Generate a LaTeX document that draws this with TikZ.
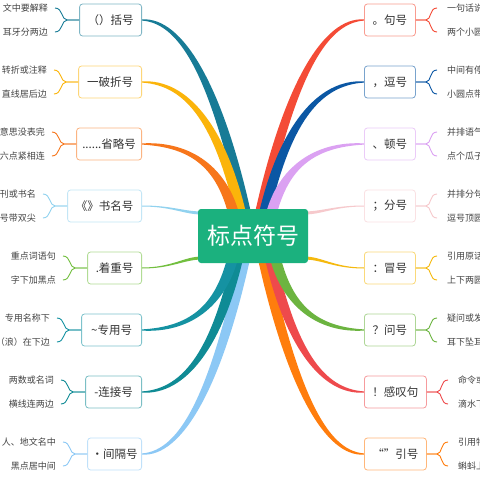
\documentclass[tikz,border=0pt]{standalone}
\usepackage{fontspec}
\setmainfont{Noto Sans CJK SC}
\definecolor{tealA}{HTML}{177B96}
\definecolor{yellowA}{HTML}{FBB40A}
\definecolor{orangeA}{HTML}{F7761B}
\definecolor{lblueA}{HTML}{91D2EF}
\definecolor{greenA}{HTML}{72BF3F}
\definecolor{tealB}{HTML}{1592A2}
\definecolor{tealC}{HTML}{0F8B95}
\definecolor{lblueB}{HTML}{8CC8F5}
\definecolor{redA}{HTML}{F44B36}
\definecolor{blueA}{HTML}{0B57A4}
\definecolor{purpleA}{HTML}{DBA1F2}
\definecolor{pinkA}{HTML}{F6C9CC}
\definecolor{yellowB}{HTML}{F5B90E}
\definecolor{greenB}{HTML}{6CB440}
\definecolor{redB}{HTML}{EE4A4C}
\definecolor{orangeB}{HTML}{FF7D0D}
\definecolor{mainG}{HTML}{1BB17E}
\definecolor{txt}{HTML}{333333}
\definecolor{leaftxt}{HTML}{444444}
% tapered branch: color, bx, by, ax, ay, w
\newcommand\branch[6]{%
 \pgfmathsetmacro\Bdx{#4-(#2)}%
 \pgfmathsetmacro\Bdy{#5-(#3)}%
 \pgfmathsetmacro\Bsx{ifthenelse(\Bdx>0,1,-1)}%
 \pgfmathsetmacro\Bsy{ifthenelse(\Bdy>0,1,-1)}%
 \pgfmathsetmacro\Bs{\Bsx*\Bsy}%
 \pgfmathsetmacro\BX{#4-\Bsx*(0.2*abs(\Bdy)+4)}%
 \pgfmathsetmacro\Ca{#2+2/3*(\BX-(#2))}%
 \pgfmathsetmacro\Cbx{#4+2/3*(\BX-(#4))}%
 \pgfmathsetmacro\Cby{#5+2/3*(#3-(#5))}%
 \pgfmathsetmacro\Hw{\Bs*#6/2}%
 \pgfmathsetmacro\Hs{0.3*#6}%
 \pgfmathsetmacro\CbP{\Cbx+\Hw}%
 \pgfmathsetmacro\CbM{\Cbx-\Hw}%
 \pgfmathsetmacro\EP{#4+\Hw}%
 \pgfmathsetmacro\EM{#4-\Hw}%
 \fill[#1] (#2,#3-0.6) .. controls (\Ca,#3-\Hs) and (\CbP,\Cby) .. (\EP,#5)
   -- (\EM,#5) .. controls (\CbM,\Cby) and (\Ca,#3+\Hs) .. (#2,#3+0.6) -- cycle;
}
% thin horizontal branch: color, bx, by, ax, ay, w
\newcommand\hbranch[6]{%
 \pgfmathsetmacro\Hdx{#4-(#2)}%
 \pgfmathsetmacro\Ha{#2+0.5*\Hdx}%
 \pgfmathsetmacro\Hb{#4-0.3*\Hdx}%
 \fill[#1] (#2,#3-0.5) .. controls (\Ha,#3-0.5) and (\Hb,#5-#6/2) .. (#4,#5-#6/2)
   -- (#4,#5+#6/2) .. controls (\Hb,#5+#6/2) and (\Ha,#3+0.5) .. (#2,#3+0.5) -- cycle;
}
% left item: name, c, width, label, leafA, leafB, color
\newcommand\leftitem[7]{%
 \node[box=#7!55!white, minimum width=#3pt, anchor=east] (#1) at (142,#2) {#4};
 \node[leaf, anchor=east] (#1a) at (142-#3-32,#2-12) {#5};
 \node[leaf, anchor=east] (#1b) at (142-#3-32,#2+12) {#6};
 \draw[brk=#7] (#1.west) -- ++(-12,0) .. controls +(-6,0) and +(8,0) .. ([xshift=7pt]#1a.east);
 \draw[brk=#7] (#1.west) -- ++(-12,0) .. controls +(-6,0) and +(8,0) .. ([xshift=7pt]#1b.east);
}
% right item: name, c, width, label, leafA, leafB, color
\newcommand\rightitem[7]{%
 \node[box=#7!55!white, minimum width=#3pt, anchor=west] (#1) at (364,#2) {#4};
 \node[leaf, anchor=west] (#1a) at (364+#3+32,#2-12) {#5};
 \node[leaf, anchor=west] (#1b) at (364+#3+32,#2+12) {#6};
 \draw[brk=#7] (#1.east) -- ++(10,0) .. controls +(6,0) and +(-8,0) .. ([xshift=-10pt]#1a.west);
 \draw[brk=#7] (#1.east) -- ++(10,0) .. controls +(6,0) and +(-8,0) .. ([xshift=-10pt]#1b.west);
}
\begin{document}
\begin{tikzpicture}[x=1pt,y=-1pt,
  box/.style={draw=#1, line width=0.8pt, rounded corners=3pt, fill=white,
    minimum height=32pt, inner sep=0pt, text=txt, font=\fontsize{11.5}{13}\selectfont},
  leaf/.style={inner sep=0pt, text=leaftxt, font=\fontsize{9}{11}\selectfont},
  brk/.style={draw=#1, line width=0.9pt},
  mainbox/.style={fill=mainG, rounded corners=3pt, minimum width=110pt, minimum height=54pt,
    inner sep=0pt, text=white, font=\fontsize{23}{26}\selectfont}]
\useasboundingbox (0,0) rectangle (480,480);
\clip (0,0) rectangle (480,480);
\fill[white] (0,0) rectangle (480,480);
% branches top-left
\branch{tealA}{142}{20}{246}{215}{11}
\branch{yellowA}{142}{82}{241}{215}{11}
\branch{orangeA}{142}{144}{234}{215}{11}
% top-right
\branch{redA}{364}{20}{260}{215}{11}
\branch{blueA}{364}{82}{264}{215}{11}
\branch{purpleA}{364}{144}{271}{215}{11}
% bottom-left
\branch{lblueB}{142}{454}{245}{257}{11}
\branch{tealC}{142}{392}{238}{257}{11}
\branch{tealB}{142}{330}{233}{257}{11}
% bottom-right
\branch{orangeB}{364}{454}{263}{257}{11}
\branch{redB}{364}{392}{270}{257}{11}
\branch{greenB}{364}{330}{275}{257}{11}
% thin side branches
\hbranch{lblueA}{142}{206}{202}{213}{3}
\hbranch{greenA}{142}{268}{202}{258}{3}
\hbranch{pinkA}{364}{206}{304}{213}{3}
\hbranch{yellowB}{364}{268}{304}{258}{3}
% centre
\node[mainbox] (c) at (253,236) {标点符号};
% left items
\leftitem{b1}{20}{62}{（）括号}{文中要解释}{耳牙分两边}{tealA}
\leftitem{b2}{82}{63}{一破折号}{转折或注释}{直线居后边}{yellowA}
\leftitem{b3}{144}{65}{......省略号}{意思没表完}{六点紧相连}{orangeA}
\leftitem{b4}{206}{74}{《》书名号}{刊或书名}{号带双尖}{lblueA}
\leftitem{b5}{268}{54}{.着重号}{重点词语句}{字下加黑点}{greenA}
\leftitem{b6}{330}{60}{{\textasciitilde}专用号}{专用名称下}{（浪）在下边}{tealB}
\leftitem{b7}{392}{56}{-连接号}{两数或名词}{横线连两边}{tealC}
\leftitem{b8}{454}{54}{·间隔号}{人、地文名中}{黑点居中间}{lblueB}
% right items
\rightitem{r1}{20}{51}{。句号}{一句话说}{两个小圆}{redA}
\rightitem{r2}{82}{51}{，逗号}{中间有停}{小圆点带}{blueA}
\rightitem{r3}{144}{51}{、顿号}{并排语气}{点个瓜子}{purpleA}
\rightitem{r4}{206}{51}{；分号}{并排分句}{逗号顶圆}{pinkA}
\rightitem{r5}{268}{51}{：冒号}{引用原话}{上下两圆}{yellowB}
\rightitem{r6}{330}{51}{？问号}{疑问或发}{耳下坠耳}{greenB}
\rightitem{r7}{392}{62}{！感叹句}{命令或感}{滴水下面}{redB}
\rightitem{r8}{454}{62}{“”引号}{引用特殊}{蝌蚪上下}{orangeB}
\end{tikzpicture}
\end{document}
